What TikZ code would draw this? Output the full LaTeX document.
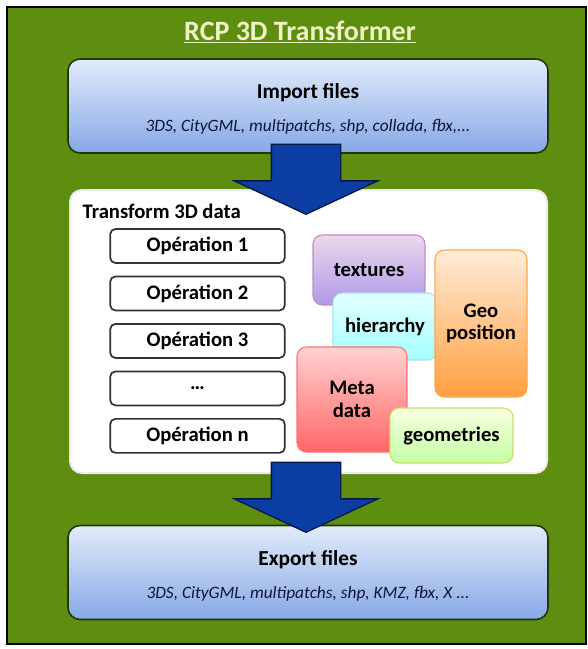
\documentclass[tikz,border=0pt]{standalone}
\usepackage{fontspec}
\setmainfont{Carlito}
\usetikzlibrary{positioning, shapes, shapes.arrows}
\definecolor{bggreen}{HTML}{5E8E10}
\definecolor{titlecol}{HTML}{F0F2C8}
\definecolor{fileTop}{HTML}{E2ECFA}
\definecolor{fileBot}{HTML}{86A8E6}
\definecolor{fileEdge}{HTML}{22360C}
\definecolor{arrowblue}{HTML}{0C3DA2}
\definecolor{arrowedge}{HTML}{06184A}
\definecolor{subcol}{HTML}{10143C}
\tikzstyle{filebox} = [draw=fileEdge, line width=1.2pt, rounded corners=9pt,
    top color=fileTop, bottom color=fileBot,
    minimum width=360pt, minimum height=70.5pt, align=center]
\tikzstyle{opbox} = [draw=black!80, line width=1.3pt, rounded corners=4pt,
    fill=white, minimum width=131pt, minimum height=25.5pt,
    font=\fontsize{15.5}{18}\selectfont\bfseries]
\tikzstyle{tagbox} = [rounded corners=7pt, line width=0.8pt, align=center,
    font=\fontsize{15.5}{17}\selectfont\bfseries]
\tikzstyle{bigarrow} = [single arrow, draw=arrowedge, fill=arrowblue,
    line width=1pt, shape border rotate=270,
    inner xsep=25.5pt, inner ysep=0pt,
    minimum height=52.5pt, minimum width=106.5pt,
    single arrow head extend=27.75pt, single arrow tip angle=130]
\newcommand{\subline}[1]{{\fontsize{13}{16}\selectfont\itshape\color{subcol}#1}}

\begin{document}
\begin{tikzpicture}[x=0.75pt, y=-0.75pt]
        \useasboundingbox (0,0) rectangle (587,649);
        \fill[white] (0,0) rectangle (587,649);
        \draw[fill=bggreen, line width=0.8pt] (7,7) rectangle (586,644);

        \node[
            text=titlecol,
            font=\fontsize{21}{24}\selectfont\bfseries
        ](title) at (300,32){\underline{RCP 3D Transformer}};

        \node[
            filebox
        ](import) at (308,106){%
            \fontsize{16}{20}\selectfont\bfseries\rule{0pt}{16pt}Import files\\[13pt]
            \subline{3DS, CityGML, multipatchs, shp, collada, fbx,...}};

        \node[
            draw=black!8,
            fill=white,
            line width=1.5pt,
            rounded corners=9pt,
            minimum width=357.75pt,
            minimum height=212.25pt
        ](transform) at (308.5,331.5){};

        \node[
            anchor=west,
            font=\fontsize{15.5}{18}\selectfont\bfseries
        ](transformlabel) at (78,211){Transform 3D data};

        \node[bigarrow, anchor=tip](down1) at (306,215){};

        \node[opbox](op1) at (197.5,246){Opération 1};
        \node[opbox, below of=op1, node distance=35.6pt](op2){Opération 2};
        \node[opbox, below of=op2, node distance=35.6pt](op3){Opération 3};
        \node[opbox, below of=op3, node distance=35.6pt](opdots){\dots};
        \node[opbox, below of=opdots, node distance=35.6pt](opn){Opération n};

        \node[
            tagbox,
            draw=violet!45,
            top color=violet!15,
            bottom color=violet!45!blue!40,
            minimum width=84pt,
            minimum height=52.5pt
        ](textures) at (369,270){textures};

        \node[
            tagbox,
            draw=cyan!35,
            top color=cyan!12,
            bottom color=cyan!35,
            minimum width=78pt,
            minimum height=50.25pt
        ](hierarchy) at (385,326.5){hierarchy};

        \node[
            tagbox,
            draw=orange!70,
            top color=orange!15,
            bottom color=orange!75,
            minimum width=69pt,
            minimum height=110.25pt
        ](geo) at (481,323.5){Geo\\position};

        \node[
            tagbox,
            draw=red!55,
            top color=red!18,
            bottom color=red!60,
            minimum width=82.5pt,
            minimum height=78.75pt
        ](meta) at (352,399.5){Meta\\data};

        \node[
            tagbox,
            draw=lime!60!olive!60,
            top color=lime!12,
            bottom color=lime!45!green!35,
            minimum width=92.25pt,
            minimum height=41.25pt
        ](geometries) at (451.5,435.5){geometries};

        \node[
            filebox
        ](export) at (308,572.5){%
            \fontsize{16}{20}\selectfont\bfseries\rule{0pt}{16pt}Export files\\[13pt]
            \subline{3DS, CityGML, multipatchs, shp, KMZ, fbx, X ...}};

        \node[bigarrow, anchor=tip](down2) at (306,533){};
    \end{tikzpicture}
\end{document}
